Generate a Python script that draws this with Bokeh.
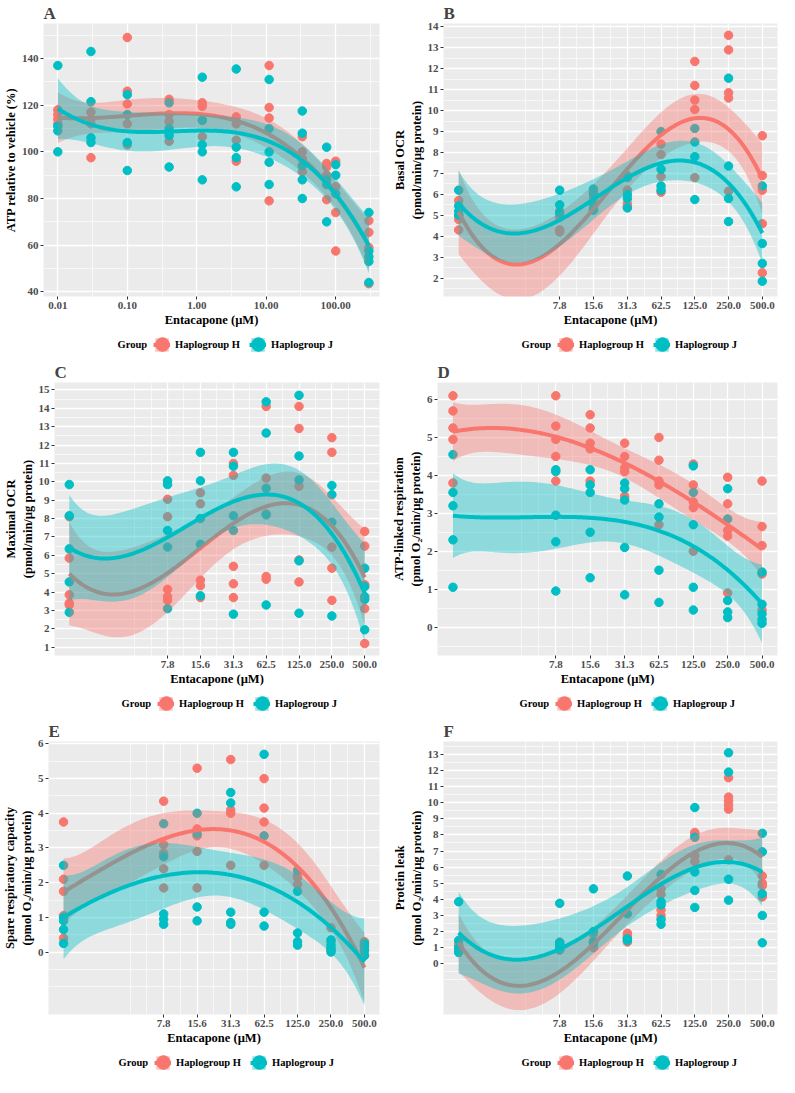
import numpy as np
from bokeh.plotting import figure
from bokeh.models import Range1d, FixedTicker, Legend, LegendItem, PrintfTickFormatter, Label
from bokeh.layouts import column, row
from bokeh.embed import file_html
from bokeh.resources import INLINE

RED = "#F8766D"
CYAN = "#00BFC4"
SERIF = "Liberation Serif"

# ---------------- data ----------------
conc_a = [0.01, 0.03, 0.1, 0.4, 1.2, 3.7, 11, 33, 74, 100, 300]
atp_h = [[118, 116, 112, 114], [117, 114, 112, 97.5], [149, 126, 120.5, 112, 103],
         [122.5, 116, 113, 104.5], [121, 119.5, 113.5, 106.5], [115, 112, 105, 96],
         [137, 119, 114.5, 79], [106.5, 100, 97, 91.5], [95, 93.5, 90, 79.5],
         [96, 85, 74, 57.5], [70.5, 65.5, 59, 43.5]]
atp_j = [[137, 111, 109, 100], [143, 121.5, 106, 104], [124.5, 116, 104, 92],
         [121, 110, 107, 93.5], [132, 113.5, 103, 100, 88], [135.5, 102, 97.5, 85],
         [131, 110, 100, 95.5, 86], [117.5, 108, 94, 88, 80], [102, 88, 86, 70],
         [94.5, 90, 82], [74, 57.5, 55, 53, 44]]
ticks_a = [0.01, 0.1, 1, 10, 100]

conc = [0.98, 7.8, 15.6, 31.3, 62.5, 125, 250, 500]
ticks_conc = [7.8, 15.6, 31.3, 62.5, 125, 250, 500]

basal_h = [[5.7, 5.0, 4.8, 4.3], [5.2, 4.9, 4.3, 4.2], [6.1, 5.8, 5.3, 5.25],
           [6.9, 6.2, 5.55, 5.4], [8.4, 7.9, 6.85, 6.1], [12.35, 11.2, 10.5, 10.05, 6.8],
           [13.6, 12.9, 10.85, 10.6, 6.15], [8.8, 6.9, 6.2, 4.6, 2.25]]
basal_j = [[6.2, 5.45, 5.0, 5.2], [6.2, 5.5, 5.1], [6.25, 6.0, 5.5, 5.25],
           [6.8, 6.0, 5.8, 5.35], [9.0, 7.2, 6.4, 6.2], [9.15, 8.5, 7.8, 5.75],
           [11.55, 7.35, 5.8, 4.7], [6.4, 3.65, 2.7, 1.85]]

maximal_h = [[8.1, 5.85, 3.85, 3.4, 3.3], [9.05, 8.1, 4.15, 3.75, 3.55], [9.4, 8.8, 4.65, 4.35, 3.7],
             [11.0, 10.35, 5.4, 4.45, 3.7], [14.1, 10.2, 8.25, 4.85, 4.7], [14.1, 12.9, 9.75, 5.75, 4.55],
             [12.4, 11.6, 6.45, 5.3, 3.55], [7.3, 6.5, 4.4, 3.1, 1.2]]
maximal_j = [[9.85, 8.15, 6.35, 4.55, 2.9], [10.05, 9.85, 7.35, 6.45, 3.1], [11.6, 10.05, 8.0, 6.6, 3.8],
             [11.6, 10.85, 8.15, 7.35, 2.8], [14.35, 12.65, 9.65, 8.2, 3.3], [14.7, 11.4, 10.1, 5.7, 2.85],
             [9.8, 9.3, 7.8, 2.7], [5.3, 4.3, 3.75, 3.6, 1.95]]

atplinked_h = [[6.1, 5.7, 5.25, 4.95, 3.8], [6.1, 5.3, 4.95, 4.5, 3.85], [5.6, 5.25, 4.85, 4.7, 3.85],
               [4.85, 4.5, 4.2, 4.1, 3.45], [5.0, 4.4, 3.85, 3.75, 2.7], [4.3, 3.75, 3.3, 3.15, 2.0],
               [3.95, 3.25, 2.55, 2.4, 0.9], [3.85, 2.65, 2.15, 1.4, 0.45]]
atplinked_j = [[4.55, 3.55, 3.2, 2.3, 1.05], [4.15, 4.1, 2.95, 2.25, 0.95], [4.15, 3.75, 3.55, 2.5, 1.3],
               [3.8, 3.65, 3.35, 2.1, 0.85], [3.25, 2.9, 1.5, 0.65], [4.25, 3.55, 2.7, 1.05, 0.45],
               [3.65, 2.85, 0.7, 0.4, 0.25], [1.45, 0.6, 0.35, 0.2, 0.1]]

spare_h = [[3.75, 2.1, 1.75, 1.05, 0.4], [4.35, 3.1, 2.85, 2.4, 1.85], [5.3, 3.55, 3.35, 2.9, 1.85],
           [5.55, 4.1, 4.0, 2.5], [5.0, 4.15, 3.75, 2.5], [2.2, 2.15, 1.95],
           [0.7, 0.3, 0.1, 0.05], [0.3, 0.2, 0.05, -0.1]]
spare_j = [[2.5, 1.0, 0.9, 0.65, 0.25], [3.7, 2.75, 1.1, 0.95, 0.8], [4.0, 3.4, 1.3, 0.9],
           [4.6, 4.3, 1.15, 0.85, 0.8], [5.7, 3.35, 1.15, 0.75], [2.35, 1.75, 0.55, 0.3, 0.2],
           [0.35, 0.2, 0.1, 0.0], [0.25, 0.15, 0.05, -0.1]]

leak_h = [[1.2, 1.05, 0.95, 0.85], [1.35, 1.2, 1.05, 0.9], [1.85, 1.35, 1.1, 1.0],
          [1.9, 1.75, 1.6, 1.35], [4.65, 4.3, 3.35, 3.0], [8.15, 8.05, 6.7, 6.35],
          [11.55, 10.35, 10.1, 9.85, 9.6, 6.45], [5.45, 5.0, 4.85, 4.15]]
leak_j = [[3.85, 1.45, 1.0, 0.7], [3.75, 1.3, 1.1, 0.85], [4.65, 2.0, 1.4, 1.3],
          [5.45, 3.1, 1.55, 1.45], [5.55, 3.85, 3.65, 2.75, 2.45], [9.7, 7.85, 5.7, 4.55, 3.5],
          [13.1, 11.9, 5.25, 3.95], [8.1, 6.95, 4.35, 3.0, 1.3]]

group_labels = ["Haplogroup H", "Haplogroup J"]


# ---------------- helpers ----------------
def flatten(cs, groups):
    xs, ys = [], []
    for c, vals in zip(cs, groups):
        for v in vals:
            xs.append(c)
            ys.append(v)
    return np.array(xs, float), np.array(ys, float)


def tq(df):
    z = 1.959964
    return z + (z ** 3 + z) / (4 * df) + (5 * z ** 5 + 16 * z ** 3 + 3 * z) / (96 * df ** 2)


def smooth(xs, ys, base):
    u = np.log(xs) / np.log(base)
    X = np.vander(u, 4)
    beta = np.linalg.lstsq(X, ys, rcond=None)[0]
    r = ys - X @ beta
    df = len(ys) - 4
    s2 = r @ r / df
    inv = np.linalg.inv(X.T @ X)
    g = np.linspace(u.min(), u.max(), 150)
    G = np.vander(g, 4)
    fit = G @ beta
    se = np.sqrt(s2 * np.einsum("ij,jk,ik->i", G, inv, G))
    t = tq(df)
    return base ** g, fit, fit - t * se, fit + t * se


def log_minors(t):
    ext = [t[0] ** 2 / t[1]] + list(t) + [t[-1] ** 2 / t[-2]]
    mids = [float(np.sqrt(a * b)) for a, b in zip(ext[:-1], ext[1:])]
    return sorted(float(v) for v in ext + mids)


def lin_minors(t):
    step = t[1] - t[0]
    return [float(v) for v in np.arange(t[0] - step, t[-1] + step + 1e-9, step / 2)]


def style_axis(ax):
    ax.axis_line_color = None
    ax.major_tick_line_color = "#333333"
    ax.major_tick_in = 0
    ax.major_tick_out = 3
    ax.minor_tick_line_color = None
    ax.major_label_text_font = SERIF
    ax.major_label_text_font_style = "bold"
    ax.major_label_text_font_size = "11px"
    ax.major_label_text_color = "#4D4D4D"
    ax.major_label_standoff = 1
    ax.axis_label_text_font = SERIF
    ax.axis_label_text_font_style = "bold"
    ax.axis_label_text_font_size = "12.5px"
    ax.axis_label_text_color = "black"
    ax.axis_label_standoff = 1


def legend_fig(width, gx, series):
    # the same series are drawn here, far outside the visible range, only to feed the legend keys
    q = figure(width=width, height=30, x_axis_type="log", x_range=Range1d(1e6, 1e7),
               y_range=Range1d(1e6, 1e6 + 1),
               output_backend="svg", toolbar_location=None, min_border=0,
               outline_line_color=None, x_axis_location=None, y_axis_location=None)
    q.grid.visible = False
    keys, dots = [], []
    for (px, py, gxs, fit, lo, hi), col in zip(series, (RED, CYAN)):
        b = q.varea(x=gxs, y1=lo, y2=hi, fill_color=col, fill_alpha=0.4)
        l = q.line(gxs, fit, line_color=col, line_width=4)
        d = q.scatter(px, py, color=col)
        keys.append([b, l])
        dots.append(d)
    common = dict(orientation="horizontal", label_text_font=SERIF, label_text_font_style="bold",
                  label_text_font_size="10.5px", padding=0, margin=0,
                  border_line_color=None, background_fill_alpha=0)
    mid = 15
    lx = gx + 36
    leg1 = Legend(items=[LegendItem(label=lab, renderers=k) for lab, k in zip(group_labels, keys)],
                  location=(lx, mid - 8.5), glyph_width=17, glyph_height=17, label_height=17,
                  label_width=68, label_standoff=5, spacing=6, label_text_color="black", **common)
    leg2 = Legend(items=[LegendItem(label=" ", renderers=[d]) for d in dots],
                  location=(lx - 8.5, mid - 17), glyph_width=34, glyph_height=34,
                  label_height=17, label_width=56, label_standoff=0, spacing=6, **common)
    q.add_layout(leg1)
    q.add_layout(leg2)
    q.add_layout(Label(x=gx, y=mid, x_units="screen", y_units="screen", text="Group",
                       text_font=SERIF, text_font_style="bold", text_font_size="10.5px",
                       text_baseline="middle", text_color="black"))
    return q


def panel(letter, cs, h, j, ylab, xr, yr, xt, yt, base, fmt, width, br, gx):
    p = figure(width=width, height=329, x_axis_type="log",
               x_range=Range1d(*xr), y_range=Range1d(*yr),
               output_backend="svg", toolbar_location=None,
               min_border_left=10, min_border_right=br, min_border_top=18, min_border_bottom=10,
               background_fill_color="#EBEBEB", border_fill_color="white",
               outline_line_color=None, title=letter)
    p.title.text_font = SERIF
    p.title.text_font_style = "bold"
    p.title.text_font_size = "17px"
    p.title.align = "left"
    p.title.standoff = 2

    xtick = FixedTicker(ticks=[float(v) for v in xt], minor_ticks=log_minors(xt))
    ytick = FixedTicker(ticks=[float(v) for v in yt], minor_ticks=lin_minors(yt))
    p.xaxis.ticker = xtick
    p.yaxis.ticker = ytick
    p.xgrid.ticker = xtick
    p.ygrid.ticker = ytick
    p.xaxis.formatter = PrintfTickFormatter(format=fmt)
    p.yaxis.formatter = PrintfTickFormatter(format="%d")
    p.grid.grid_line_color = "white"
    p.grid.grid_line_width = 1.3
    p.grid.minor_grid_line_color = "white"
    p.grid.minor_grid_line_width = 0.6
    style_axis(p.xaxis[0])
    style_axis(p.yaxis[0])
    p.xaxis.axis_label = "Entacapone (µM)"
    p.yaxis.axis_label = ylab

    xh, yh = flatten(cs, h)
    xj, yj = flatten(cs, j)
    p.scatter(xh, yh, size=8.5, color=RED)
    p.scatter(xj, yj, size=8.5, color=CYAN)
    series = []
    for xs, ys, col in ((xh, yh, RED), (xj, yj, CYAN)):
        gxs, fit, lo, hi = smooth(xs, ys, base)
        p.varea(x=gxs, y1=lo, y2=hi, fill_color=col, fill_alpha=0.4)
        p.line(gxs, fit, line_color=col, line_width=4)
        series.append((xs, ys, gxs, fit, lo, hi))
    return column(p, legend_fig(width, gx, series), spacing=0)


def lin(lo, hi, s):
    return [float(v) for v in np.arange(lo, hi + 1e-9, s)]


xr2 = (0.98 * 2 ** -0.45, 500 * 2 ** 0.45)

pA = panel("A", conc_a, atp_h, atp_j, "ATP relative to vehicle (%)",
           (10 ** -2.206, 10 ** 2.63), (38, 155), ticks_a, lin(40, 140, 20), 10, "%.2f", 389, 10, 74)
pB = panel("B", conc, basal_h, basal_j, "Basal OCR\n(pmol/min/µg protein)",
           xr2, (1.12, 14.16), ticks_conc, lin(2, 14, 1), 2, "%.1f", 390, 2, 78)
pC = panel("C", conc, maximal_h, maximal_j, "Maximal OCR\n(pmol/min/µg protein)",
           xr2, (0.55, 15.4), ticks_conc, lin(1, 15, 1), 2, "%.1f", 389, 10, 67)
pD = panel("D", conc, atplinked_h, atplinked_j, "ATP-linked respiration\n(pmol O₂/min/µg protein)",
           xr2, (-0.75, 6.45), ticks_conc, lin(0, 6, 1), 2, "%.1f", 390, 2, 82)
pE = panel("E", conc, spare_h, spare_j, "Spare respiratory capacity\n(pmol O₂/min/µg protein)",
           xr2, (-1.8, 6.07), ticks_conc, lin(0, 6, 1), 2, "%.1f", 389, 10, 70)
pF = panel("F", conc, leak_h, leak_j, "Protein leak\n(pmol O₂/min/µg protein)",
           xr2, (-3.15, 13.8), ticks_conc, lin(0, 13, 1), 2, "%.1f", 390, 2, 78)

layout = column(row(pA, pB, spacing=0), row(pC, pD, spacing=0), row(pE, pF, spacing=0), spacing=0)
open("out.html", "w").write(file_html(layout, INLINE))
